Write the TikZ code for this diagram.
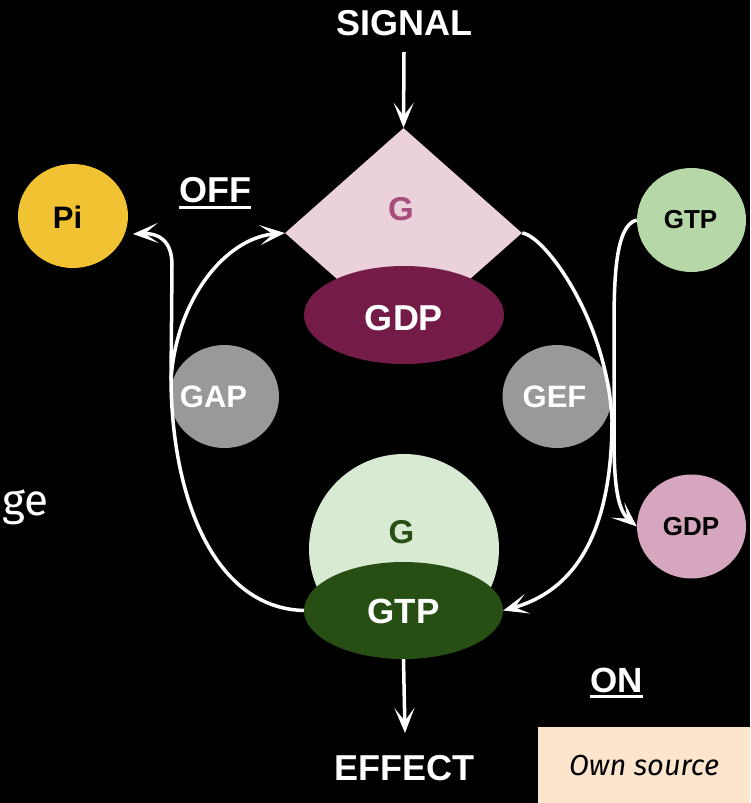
\documentclass[tikz,border=0pt]{standalone}
\usepackage{fontspec}
\setmainfont{Liberation Sans}
\newfontfamily\fira{Fira Sans}
\usetikzlibrary{shapes.geometric,arrows.meta}
\definecolor{diafill}{HTML}{EAD1DC}
\definecolor{diatext}{HTML}{A64D79}
\definecolor{gdpfill}{HTML}{741B47}
\definecolor{pifill}{HTML}{F1C232}
\definecolor{grayfill}{HTML}{999999}
\definecolor{gtplight}{HTML}{B6D7A8}
\definecolor{gdplight}{HTML}{D5A6BD}
\definecolor{gcircle}{HTML}{D9EAD3}
\definecolor{gtpdark}{HTML}{274E13}
\definecolor{srcfill}{HTML}{FCE5CD}
\tikzset{
  blob/.style={ellipse, inner sep=0pt, draw=none},
  txt/.style={inner sep=0pt, anchor=base, font=\bfseries},
  conn/.style={draw=white, line width=3.5pt},
  arr/.style={conn, -{Stealth[length=25pt,width=20pt,inset=13pt]}},
  uline/.style={draw=white, line width=3.5pt}
}
\begin{document}
\begin{tikzpicture}[x=1pt,y=-1pt]
\useasboundingbox (0,0) rectangle (750,803);
\fill[black] (0,0) rectangle (750,803);

% shapes
\node[diamond, fill=diafill, minimum width=237pt, minimum height=210pt, inner sep=0pt] (dia) at (403.5,233) {};
\node[blob, fill=gdpfill, minimum width=200pt, minimum height=98pt] (gdp) at (404,315) {};
\node[blob, fill=pifill, minimum width=110pt, minimum height=104pt] (pi) at (73,216) {};
\node[blob, fill=grayfill, minimum width=109pt, minimum height=103pt] (gap) at (224.5,396.5) {};
\node[blob, fill=grayfill, minimum width=109pt, minimum height=103pt] (gef) at (557,396.5) {};
\node[blob, fill=gtplight, minimum width=109pt, minimum height=104pt] (gtpR) at (691.5,220) {};
\node[blob, fill=gdplight, minimum width=109pt, minimum height=104pt] (gdpR) at (691.5,526.5) {};
\node[circle, fill=gcircle, minimum size=190pt, inner sep=0pt] (gcirc) at (404,549) {};
\node[blob, fill=gtpdark, minimum width=199pt, minimum height=97pt] (gtp) at (403.5,610.5) {};
\node[rectangle, fill=srcfill, minimum width=212pt, minimum height=76pt, inner sep=0pt,
      font=\fira\itshape\fontsize{29}{34}\selectfont, text=black] (src) at (644,765) {Own source};

% texts
\node[txt, text=white, font=\bfseries\fontsize{36}{40}\selectfont] (sig) at (404,35) {SIGNAL};
\node[txt, text=diatext, font=\bfseries\fontsize{33}{38}\selectfont] (gdiatxt) at (401,220) {G};
\node[txt, text=white, font=\bfseries\fontsize{36}{40}\selectfont] (gdptxt) at (404,330) {GDP};
\node[txt, text=black, font=\bfseries\fontsize{31}{36}\selectfont] (pitxt) at (67.5,228) {Pi};
\node[txt, text=white, font=\bfseries\fontsize{36}{40}\selectfont] (off) at (215,202) {OFF};
\node[txt, text=white, font=\bfseries\fontsize{31}{36}\selectfont] (gaptxt) at (213.5,407) {GAP};
\node[txt, text=white, font=\bfseries\fontsize{31}{36}\selectfont] (geftxt) at (554.5,407) {GEF};
\node[txt, text=black, font=\bfseries\fontsize{26}{30}\selectfont] (gtpRtxt) at (690.5,228) {GTP};
\node[txt, text=black, font=\bfseries\fontsize{26}{30}\selectfont] (gdpRtxt) at (691,535) {GDP};
\node[txt, text=gtpdark, font=\bfseries\fontsize{33}{38}\selectfont] (ggtxt) at (401.5,543) {G};
\node[txt, text=white, font=\bfseries\fontsize{35}{40}\selectfont] (gtptxt) at (403.5,623) {GTP};
\node[txt, text=white, font=\bfseries\fontsize{36}{40}\selectfont] (eff) at (404,780) {EFFECT};
\node[txt, text=white, font=\bfseries\fontsize{35}{40}\selectfont] (on) at (616.5,692) {ON};
\node[inner sep=0pt, anchor=base east, text=white, font=\fira\fontsize{44}{50}\selectfont] (ge) at (49,515) {ge};

% underlines
\draw[uline] ([yshift=-5pt]off.south west) -- ([yshift=-5pt]off.south east);
\draw[uline] ([yshift=-4pt]on.south west) -- ([yshift=-4pt]on.south east);

% connector helpers
\coordinate (sigtail) at (404,52);
\coordinate (efftip) at (405,733);
\coordinate (jn) at (171,380);
\coordinate (pitip) at (133,234);

% connectors
\draw[arr] (sigtail) -- (dia.north);
\draw[arr] (gtp.south) -- (efftip);
\draw[arr] (gtp.west) .. controls (215,608) and (172,500) .. (jn)
           .. controls (176,300) and (225,238) .. (dia.west);
\draw[arr] (jn) -- (172,265) .. controls (172,240) and (158,233) .. (pitip);
\draw[arr] (dia.east) .. controls (545,236) and (607,320) .. (612,420)
           .. controls (612,540) and (570,592) .. (gtp.east);
\draw[arr] (gtpR.west) .. controls (615,225) and (614,280) .. (614,330) -- (614,440)
           .. controls (614,495) and (620,512) .. (gdpR.west);
\end{tikzpicture}
\end{document}
